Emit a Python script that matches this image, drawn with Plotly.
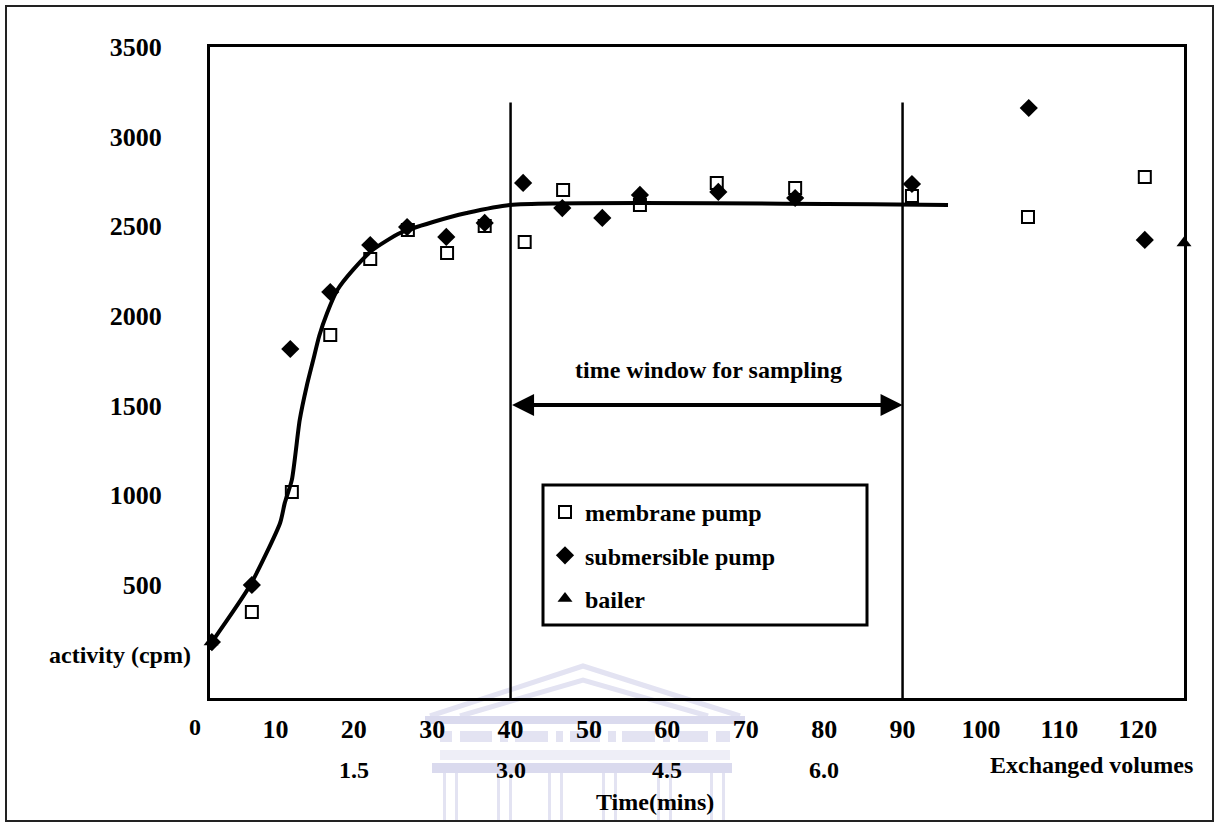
import plotly.graph_objects as go

# ---------------- data ----------------
membrane_x = [7.0, 12.1, 17.0, 22.1, 26.9, 31.9, 36.7, 41.8, 46.7, 56.5, 66.3, 76.3, 91.2, 106.0, 120.9]
membrane_y = [350, 1019, 1894, 2318, 2480, 2351, 2502, 2413, 2703, 2619, 2742, 2714, 2669, 2552, 2775]

submersible_x = [1.9, 7.0, 11.9, 17.0, 22.1, 26.8, 31.8, 36.7, 41.6, 46.6, 51.7, 56.5, 66.5, 76.3, 91.2, 106.1, 120.9]
submersible_y = [182, 500, 1816, 2134, 2396, 2496, 2441, 2519, 2742, 2602, 2547, 2675, 2692, 2658, 2736, 3160, 2424]

bailer_x = [1.8, 56.5, 125.9]
bailer_y = [182, 2647, 2407]

fit_x = [1.9, 6.8, 10.6, 11.2, 12.1, 13.1, 14.0, 14.8, 15.6, 16.6, 17.9, 19.9, 22.4, 25.9, 30.1, 34.4, 39.9, 95.8]
fit_y = [182, 500, 846, 958, 1086, 1419, 1610, 1750, 1890, 2017, 2145, 2257, 2368, 2463, 2524, 2574, 2619, 2619]

window_bounds = [40, 90]
window_top = 3190
arrow_level = 1504

x_ticks = [10, 20, 30, 40, 50, 60, 70, 80, 90, 100, 110, 120]
x_zero_label = "0"
y_ticks = [500, 1000, 1500, 2000, 2500, 3000, 3500]
volume_pos = [20, 40, 60, 80]
volume_labels = ["1.5", "3.0", "4.5", "6.0"]

# ---------------- layout geometry ----------------
W, H = 1217, 822
L, R, T, B = 210, 33, 47, 124
PW, PH = W - L - R, H - T - B


def px(xp):
    return (xp - L) / PW


def py(yp):
    return (H - B - yp) / PH


FONT = "Liberation Serif"
txt = dict(family=FONT, size=24, color="black", weight="bold")

fig = go.Figure()

fig.add_trace(go.Scatter(x=fit_x, y=fit_y, mode="lines", line=dict(color="black", width=4, shape="spline", smoothing=0.6),
                         showlegend=False, hoverinfo="skip"))
fig.add_trace(go.Scatter(x=membrane_x, y=membrane_y, mode="markers", name="membrane pump", legendgroup="a",
                         marker=dict(symbol="square-open", size=12, color="black", line=dict(width=2, color="black"))))
fig.add_trace(go.Scatter(x=submersible_x, y=submersible_y, mode="markers", name="submersible pump", legendgroup="b",
                         marker=dict(symbol="diamond", size=14, color="black")))
fig.add_trace(go.Scatter(x=bailer_x, y=bailer_y, mode="markers", name="bailer", legendgroup="c",
                         marker=dict(symbol="triangle-up", size=13, color="black"), cliponaxis=False))

shapes = []
# sampling window boundaries
for xb in window_bounds:
    shapes.append(dict(type="line", xref="x", yref="y", x0=xb, x1=xb, y0=-130, y1=window_top,
                       line=dict(color="black", width=2.5)))
# legend box
shapes.append(dict(type="rect", xref="paper", yref="paper", x0=px(543), x1=px(867), y0=py(625), y1=py(485),
                   line=dict(color="black", width=3)))
# outer frame
shapes.append(dict(type="rect", xref="paper", yref="paper", x0=px(6), x1=px(1213), y0=py(821), y1=py(6),
                   line=dict(color="#222222", width=2)))

# faint watermark (building) behind the axis labels
wm = "#e3e3f2"
wm2 = "#dadaee"
for pts in ([(430, 716), (583, 666), (740, 716)], [(460, 716), (583, 680), (708, 716)]):
    path = "M " + " L ".join(f"{px(a)},{py(b)}" for a, b in pts)
    shapes.append(dict(type="path", xref="paper", yref="paper", layer="below", path=path,
                       line=dict(color=wm, width=5)))
shapes.append(dict(type="rect", xref="paper", yref="paper", layer="below",
                   x0=px(425), x1=px(745), y0=py(724), y1=py(716), fillcolor=wm2, line=dict(width=0)))
for a, b in [(440, 452), (460, 492), (500, 508), (515, 548), (556, 563), (570, 600), (608, 616),
             (622, 655), (663, 670), (678, 708), (716, 730)]:
    shapes.append(dict(type="rect", xref="paper", yref="paper", layer="below",
                       x0=px(a), x1=px(b), y0=py(742), y1=py(731), fillcolor=wm, line=dict(width=0)))
shapes.append(dict(type="rect", xref="paper", yref="paper", layer="below",
                   x0=px(440), x1=px(730), y0=py(760), y1=py(750), fillcolor="#eeeef7", line=dict(width=0)))
shapes.append(dict(type="rect", xref="paper", yref="paper", layer="below",
                   x0=px(432), x1=px(732), y0=py(773), y1=py(763), fillcolor=wm2, line=dict(width=0)))
for a in [443, 497, 548, 602, 657, 710]:
    for c in (a, a + 12):
        shapes.append(dict(type="rect", xref="paper", yref="paper", layer="below",
                           x0=px(c), x1=px(c + 3), y0=py(820), y1=py(773), fillcolor=wm, line=dict(width=0)))

annotations = [
    dict(x=window_bounds[1], y=arrow_level, ax=window_bounds[0], ay=arrow_level, xref="x", yref="y",
         axref="x", ayref="y", text="", showarrow=True, arrowhead=2, startarrowhead=2, arrowside="end+start",
         arrowwidth=4, arrowsize=1.1, startarrowsize=1.1, arrowcolor="black", standoff=0, startstandoff=0),
    dict(x=65.2, y=1699, xref="x", yref="y", text="time window for sampling", showarrow=False, font=txt,
         xanchor="center", yanchor="middle"),
    dict(x=px(193), y=110, xref="paper", yref="y", text="activity (cpm)", showarrow=False, xanchor="right",
         yanchor="middle", font=txt),
    dict(x=px(195), y=py(727), xref="paper", yref="paper", text=x_zero_label, showarrow=False, font=txt,
         xanchor="center", yanchor="middle"),
    dict(x=px(1091), y=py(765), xref="paper", yref="paper", text="Exchanged volumes", showarrow=False, font=txt,
         xanchor="center", yanchor="middle"),
    dict(x=px(655), y=py(802), xref="paper", yref="paper", text="Time(mins)", showarrow=False, font=txt,
         xanchor="center", yanchor="middle"),
]
for xv, lab in zip(volume_pos, volume_labels):
    annotations.append(dict(x=xv, y=py(770), xref="x", yref="paper", text=lab, showarrow=False, font=txt,
                            xanchor="center", yanchor="middle"))

axis_common = dict(showline=True, linecolor="black", linewidth=3, mirror=True, showgrid=False, zeroline=False,
                   ticks="", tickfont=dict(family=FONT, size=26, color="black", weight="bold"))

fig.update_layout(
    width=W, height=H, margin=dict(l=L, r=R, t=T, b=B, autoexpand=False),
    paper_bgcolor="white", plot_bgcolor="white",
    xaxis=dict(range=[1.66, 125.9], tickmode="array", tickvals=x_ticks, ticktext=[str(v) for v in x_ticks],
               ticklabelstandoff=6, **axis_common),
    yaxis=dict(range=[-130, 3500], tickmode="array", tickvals=y_ticks, ticktext=[str(v) for v in y_ticks],
               ticklabelstandoff=40, **axis_common),
    legend=dict(x=px(545), y=py(490), xanchor="left", yanchor="top", bgcolor="rgba(0,0,0,0)", borderwidth=0,
                font=dict(family=FONT, size=24, color="black", weight="bold"), tracegroupgap=9),
    shapes=shapes, annotations=annotations, showlegend=True,
)

fig.write_html("out.html", config={"displayModeBar": False},
               post_script="document.body.style.margin='0px';")
